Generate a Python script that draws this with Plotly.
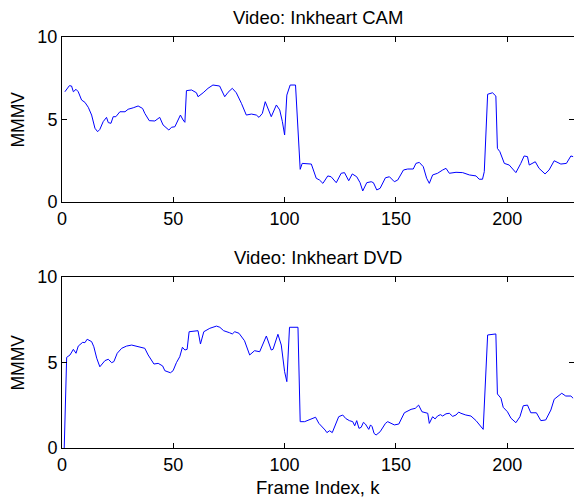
import plotly.graph_objects as go
from plotly.subplots import make_subplots

# ---- data ----
cam_frames = [1.3,3.3,4.3,5.1,6.3,7.3,8.8,10.3,11.8,13.3,
              14.8,16,17,18.5,20,20.8,22,23,24.2,26,
              28.3,29.7,32,34.2,36.2,37.2,39.2,41.7,43.9,45.4,
              48,49.2,50.7,53.2,54.4,55.2,55.9,58.2,60.4,61.1,
              63.4,65.6,67.8,70.8,73.1,74.6,76.5,78.3,80.6,82.8,
              85.1,87.3,88.5,90,91.3,94,96.3,97.8,99,100,
              101,102.5,104.9,107,107.9,112,114.2,115.7,117.2,119.4,
              120.9,123.2,125.4,126.9,128.8,130.4,132.4,133.9,135.1,136.9,
              138.9,139.9,141.4,142.9,145.3,147.1,149.3,150.8,153.4,155.3,
              157.8,159,160.5,162.3,163.8,165,166.5,168.7,171,172.5,
              174,177,180,183,186,187.4,188.9,189.7,191.2,193.4,
              194.9,195.6,196.7,198.7,200.9,203.9,206.1,207.6,209.1,209.9,
              212.6,214.3,217,218.8,221.1,224.1,226.6,228.6,229.6]
cam_mmmv = [6.68,7.05,7.03,6.68,6.83,6.68,6.18,6.04,5.74,5.27,
            4.47,4.26,4.4,4.87,5.13,4.81,4.77,5.17,5.17,5.47,
            5.47,5.62,5.71,5.82,5.67,5.37,4.93,4.91,5.13,4.67,
            4.36,4.53,4.56,5.27,4.97,4.83,6.75,6.79,6.62,6.38,
            6.62,6.89,7.09,7.03,6.38,6.65,6.89,6.62,5.98,5.27,
            5.33,5.27,5.13,5.37,6.08,5.17,5.88,5.58,4.87,4.06,
            6.48,7.09,7.09,1.98,2.34,2.3,1.44,1.33,1.13,1.58,
            1.53,1.17,1.74,1.78,1.29,1.7,1.53,1.17,0.67,1.17,
            1.23,1.17,0.73,0.83,1.47,1.53,1.23,1.33,1.94,2.0,
            2.0,2.34,2.4,2.14,1.44,1.13,1.64,1.74,1.94,2.04,
            1.74,1.8,1.78,1.64,1.58,1.38,1.38,1.84,6.53,6.62,
            6.42,3.25,3.05,2.34,2.24,1.78,2.34,2.79,2.75,2.24,
            2.44,2.04,1.7,1.94,2.5,2.3,2.34,2.79,2.75]

dvd_frames = [1,2.1,3.6,5.1,6.3,7.3,9.3,10.3,11.3,13.3,
              14.3,15.6,17,19.3,20.8,22.3,23.3,24.8,26.8,29,
              31.3,33.5,35.7,37.2,38.7,41.3,43.2,45.2,46.2,48.7,
              49.9,51.4,52.9,54.1,55.2,56.2,57.1,61.1,62.2,63.7,
              66.4,69.4,70.9,72.6,75.3,76.5,77.6,79.5,82,83.1,
              84.3,86.5,88.8,91.8,94,94.8,97,98.5,100,101,
              102.2,106,107,109,110.5,112,113.9,115.4,117.2,118.2,
              119,120.2,121.4,124.3,126.1,127.5,129.1,130.6,131.5,132.4,
              133.4,134.4,135.4,136.3,137.8,138.6,139.3,140.2,141.1,142.9,
              145.3,146.3,149.3,151.3,153.8,156.8,158.7,160.2,
              161.7,164.3,165,166.5,167.6,168.7,170,171,172.5,174,175.5,177,178.2,179.2,181.4,
              183.7,186,187.4,189.2,191.2,194.9,195.6,197.2,198.2,200.1,
              201.7,203.9,205.7,207.2,209.1,210.6,213.1,215.1,217.3,219.6,
              221.1,224.5,226.3,228.6,229.6]
dvd_mmmv = [0,5.3,5.44,5.77,5.54,5.96,6.18,6.16,6.36,6.22,
            5.92,5.25,4.75,5.11,5.19,4.99,5.05,5.54,5.83,5.96,
            6.02,5.96,5.89,5.83,5.44,4.91,4.95,4.8,4.52,4.4,
            4.52,4.99,5.34,5.89,5.73,5.77,6.8,6.86,6.08,6.8,
            7.0,7.13,7.06,6.86,6.74,6.67,6.8,6.71,6.27,5.83,
            5.44,5.69,5.63,6.55,5.73,5.77,6.65,6.02,4.46,3.88,
            7.06,7.06,1.54,1.54,1.62,1.74,1.8,1.44,1.21,1.05,
            0.9,1.01,0.9,1.83,1.93,1.72,1.6,1.54,1.3,1.6,
            1.15,1.21,1.5,1.4,1.09,1.35,1.25,0.85,0.76,0.95,
            1.44,1.54,1.35,1.4,2.06,2.26,2.32,2.51,
            2.12,2.03,1.44,1.83,1.7,1.87,1.95,1.87,2.0,2.03,1.85,1.93,2.1,2.03,1.93,
            1.87,1.6,1.35,1.09,6.61,6.67,3.16,2.91,2.38,2.12,
            1.74,1.48,1.83,2.47,2.51,2.06,2.06,1.6,1.64,2.22,
            2.85,3.2,3.04,3.04,2.91]

titles = ["Video: Inkheart CAM", "Video: Inkheart DVD"]
y_label = "MMMV"
x_label = "Frame Index, k"
x_ticks = [0, 50, 100, 150, 200]
y_ticks = [0, 5, 10]

W, H = 574, 500
FONT = "Liberation Sans, Arial, sans-serif"
FS = 18
FS_T = 18.5

fig = make_subplots(rows=2, cols=1)
fig.add_trace(go.Scatter(x=cam_frames, y=cam_mmmv, mode="lines",
                         line=dict(color="#0000ff", width=1)), row=1, col=1)
fig.add_trace(go.Scatter(x=dvd_frames, y=dvd_mmmv, mode="lines",
                         line=dict(color="#0000ff", width=1)), row=2, col=1)

# plot boxes in pixels (top, bottom)
boxes = [(37, 202), (277, 448)]
L = 62

axis_common = dict(showline=True, linecolor="black", linewidth=1, mirror="ticks",
                   ticks="inside", ticklen=5, tickcolor="black", tickwidth=1,
                   showgrid=False, zeroline=False, automargin=False,
                   tickfont=dict(family=FONT, size=FS, color="black"))

for i, (top, bot) in enumerate(boxes):
    n = "" if i == 0 else "2"
    fig.layout["yaxis" + n].update(domain=[1 - bot / H, 1 - top / H], range=[0, 10],
                                  tickvals=y_ticks, **axis_common)
    fig.layout["xaxis" + n].update(range=[0, 230], tickvals=x_ticks, **axis_common)
    fig.add_annotation(text=titles[i], xref="paper", yref="paper", x=0.5,
                       y=1 - (top - 20) / H, xanchor="center", yanchor="middle",
                       showarrow=False, font=dict(family=FONT, size=FS_T, color="black"))
    fig.add_annotation(text=y_label, xref="paper", yref="paper",
                       x=(17 - L) / (W - L), y=1 - ((top + bot) / 2) / H,
                       xanchor="center", yanchor="middle", textangle=-90,
                       showarrow=False, font=dict(family=FONT, size=17.5, color="black"))

fig.add_annotation(text=x_label, xref="paper", yref="paper", x=0.5, y=1 - 487 / H,
                   xanchor="center", yanchor="middle", showarrow=False,
                   font=dict(family=FONT, size=FS_T, color="black"))

fig.update_layout(width=W, height=H,
                  margin=dict(l=L, r=0, t=0, b=0, pad=0, autoexpand=False),
                  paper_bgcolor="white", plot_bgcolor="white", showlegend=False)

fig.write_html("out.html")
